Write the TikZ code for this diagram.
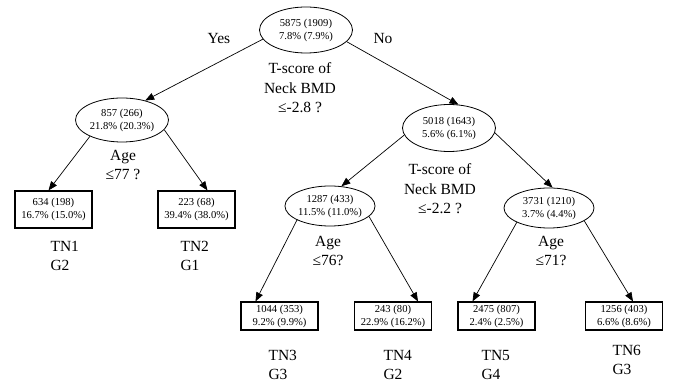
\documentclass[tikz,border=0pt]{standalone}
\usepackage{fontspec}
\setmainfont{Liberation Serif}
\usetikzlibrary{arrows.meta,positioning,shapes.geometric}

\begin{document}
\begin{tikzpicture}[x=1pt, y=-1pt, >={Triangle[length=9pt,width=7pt]},
    splitnode/.style={draw, ellipse, line width=0.8pt, inner sep=0pt, minimum width=93pt,
                minimum height=46pt, align=center, font=\fontsize{10.6}{13}\selectfont},
    lowsplit/.style={splitnode, minimum width=90pt, minimum height=40pt},
    leaf/.style={draw, line width=1.1pt, inner sep=0pt, minimum width=77pt,
                minimum height=37pt, align=center, font=\fontsize{10.6}{13}\selectfont},
    lowleaf/.style={leaf, minimum height=28pt},
    question/.style={align=center, font=\fontsize{15.5}{19.5}\selectfont},
    leaftag/.style={align=left, anchor=west, font=\fontsize{15.5}{18.5}\selectfont},
    branch/.style={->, line width=0.7pt}]
  \useasboundingbox (0,0) rectangle (678,387);
  % splits
  \node[splitnode] (root) at (306,30) {5875 (1909)\\7.8\% (7.9\%)};
  \node[splitnode, minimum height=44pt] (n857) at (122,120) {857 (266)\\21.8\% (20.3\%)};
  \node[splitnode, minimum height=47pt] (n5018) at (449,128) {5018 (1643)\\5.6\% (6.1\%)};
  \node[lowsplit] (n1287) at (330,206) {1287 (433)\\11.5\% (11.0\%)};
  \node[lowsplit] (n3731) at (549,208) {3731 (1210)\\3.7\% (4.4\%)};
  % terminal nodes
  \node[leaf] (tn1) at (53.5,209.5) {634 (198)\\16.7\% (15.0\%)};
  \node[leaf] (tn2) at (196.5,209.5) {223 (68)\\39.4\% (38.0\%)};
  \node[lowleaf] (tn3) at (279.5,316) {1044 (353)\\9.2\% (9.9\%)};
  \node[lowleaf] (tn4) at (393,316) {243 (80)\\22.9\% (16.2\%)};
  \node[lowleaf] (tn5) at (496.5,316) {2475 (807)\\2.4\% (2.5\%)};
  \node[lowleaf] (tn6) at (624,316) {1256 (403)\\6.6\% (8.6\%)};
  % branches
  \draw[branch] (root.192) -- (n857.40);
  \draw[branch] (root.344) -- (n5018.68);
  \draw[branch] (n857.207) -- ([xshift=-5pt]tn1.north);
  \draw[branch] (n857.347) -- ([xshift=11pt]tn2.north);
  \draw[branch] (n5018.189) -- (n1287.60);
  \draw[branch] (n5018.354) -- (n3731.80);
  \draw[branch] (n1287.203) -- ([xshift=-24pt]tn3.north);
  \draw[branch] (n1287.345) -- ([xshift=25pt]tn4.north);
  \draw[branch] (n3731.204) -- ([xshift=-24pt]tn5.north);
  \draw[branch] (n3731.340) -- ([xshift=9pt]tn6.north);
  % split rules
  \node[question] (yes) at (219,39) {Yes};
  \node[question] (no) at (383,39) {No};
  \node[question] (q1) at (300,88) {T-score of\\Neck BMD\\ ≤-2.8 ?};
  \node[question] (q2) at (440,189) {T-score of\\Neck BMD\\ ≤-2.2 ?};
  \node[question] (q3) at (123,165) {Age\\≤77 ?};
  \node[question] (q4) at (328,251) {Age\\ ≤76?};
  \node[question] (q5) at (551,251) {Age\\ ≤71?};
  % terminal labels
  \node[leaftag] (l1) at (47,256) {TN1\\G2};
  \node[leaftag] (l2) at (177,256) {TN2\\G1};
  \node[leaftag] (l3) at (265,365) {TN3\\ G3};
  \node[leaftag] (l4) at (380,365) {TN4\\ G2};
  \node[leaftag] (l5) at (478,365) {TN5\\G4};
  \node[leaftag] (l6) at (609,360) {TN6\\G3};
\end{tikzpicture}
\end{document}
